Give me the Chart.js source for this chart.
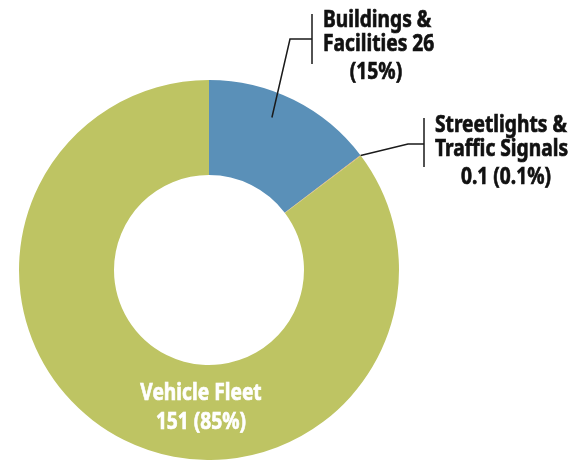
<!DOCTYPE html>
<html>
<head>
<meta charset="utf-8">
<script src="https://cdn.jsdelivr.net/npm/chart.js@4.4.0/dist/chart.umd.min.js"></script>
<style>
  html, body { margin: 0; padding: 0; background: #fff; }
  #wrap { width: 581px; height: 460px; position: relative; }
</style>
</head>
<body>
<div id="wrap"><canvas id="emissionsChart"></canvas></div>
<script>
var categories = ["Buildings & Facilities", "Streetlights & Traffic Signals", "Vehicle Fleet"];
var emissions = [26, 0.1, 151];
var percentLabels = ["15%", "0.1%", "85%"];
var sliceColors = ["#5a90b8", "#e8a25a", "#bec463"];

var labelFont = "bold 24px 'Noto Sans', 'Open Sans', sans-serif";
var squeeze = 0.8; // fake a condensed face

function drawText(ctx, text, x, y, align) {
    ctx.save();
    ctx.translate(x, y);
    ctx.scale(squeeze, 1);
    ctx.textAlign = align;
    ctx.strokeStyle = ctx.fillStyle;
    ctx.lineWidth = 0.7;
    ctx.fillText(text, 0, 0);
    ctx.strokeText(text, 0, 0);
    ctx.restore();
}

// leader lines + text for each slice
var calloutPlugin = {
    id: 'callouts',
    afterDatasetsDraw: function(chart) {
        var ctx = chart.ctx;
        var arcs = chart.getDatasetMeta(0).data;
        ctx.save();
        ctx.strokeStyle = "#1a1a1a";
        ctx.lineWidth = 1.5;
        ctx.font = labelFont;
        ctx.textBaseline = "alphabetic";

        // buildings
        var a = arcs[0].getProps(['x', 'y', 'startAngle', 'endAngle', 'outerRadius']);
        var mid = (a.startAngle + a.endAngle) / 2 - 0.07;
        var r = a.outerRadius - 25;
        ctx.beginPath();
        ctx.moveTo(a.x + Math.cos(mid) * r, a.y + Math.sin(mid) * r);
        ctx.lineTo(290, 39);
        ctx.lineTo(312, 39);
        ctx.moveTo(312, 14);
        ctx.lineTo(312, 64);
        ctx.stroke();
        ctx.fillStyle = "#111";
        drawText(ctx, "Buildings &", 323, 27, "left");
        drawText(ctx, "Facilities " + emissions[0], 323, 51, "left");
        drawText(ctx, "(" + percentLabels[0] + ")", 376, 79, "center");

        // streetlights
        var s = arcs[1].getProps(['x', 'y', 'startAngle', 'endAngle', 'outerRadius']);
        var sm = (s.startAngle + s.endAngle) / 2;
        ctx.strokeStyle = "#1a1a1a";
        ctx.lineWidth = 1.5;
        ctx.beginPath();
        ctx.moveTo(s.x + Math.cos(sm) * s.outerRadius, s.y + Math.sin(sm) * s.outerRadius);
        ctx.lineTo(408, 144);
        ctx.lineTo(424, 144);
        ctx.moveTo(424, 118);
        ctx.lineTo(424, 167);
        ctx.stroke();
        drawText(ctx, "Streetlights &", 435, 132, "left");
        drawText(ctx, "Traffic Signals", 435, 156, "left");
        drawText(ctx, emissions[1] + " (" + percentLabels[1] + ")", 506, 184, "center");

        // vehicle fleet (inside the ring)
        var v = arcs[2].getProps(['x', 'y']);
        ctx.fillStyle = "#fff";
        drawText(ctx, "Vehicle Fleet", v.x - 8, 400, "center");
        drawText(ctx, emissions[2] + " (" + percentLabels[2] + ")", v.x - 8, 429, "center");
        ctx.restore();
    }
};

var chart = new Chart(document.getElementById("emissionsChart"), {
    type: 'doughnut',
    data: {
        labels: categories,
        datasets: [{
            data: emissions,
            backgroundColor: sliceColors,
            borderWidth: 0
        }]
    },
    options: {
        responsive: true,
        maintainAspectRatio: false,
        animation: false,
        cutout: '50%',
        layout: {
            padding: { left: 19, right: 182, top: 80, bottom: 0 }
        },
        plugins: {
            legend: { display: false },
            tooltip: { enabled: false }
        }
    },
    plugins: [calloutPlugin]
});
</script>
</body>
</html>
